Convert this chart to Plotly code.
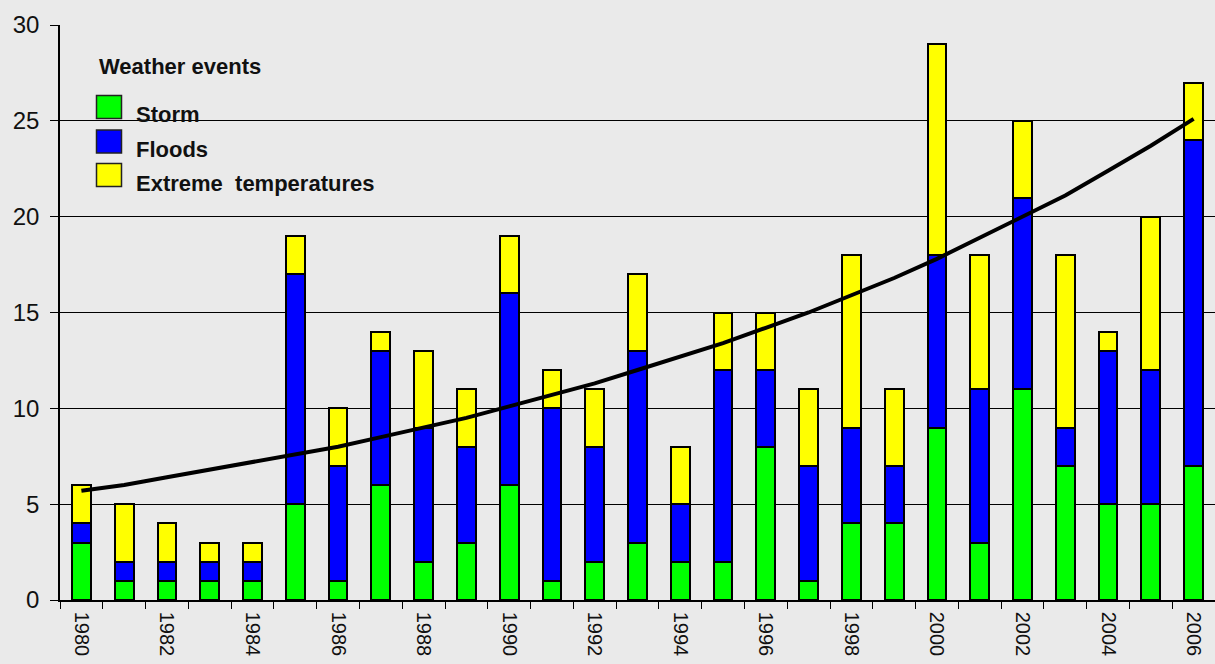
import plotly.graph_objects as go

# Annual counts of weather-related disaster events
years = list(range(1980, 2007))
storm = [3, 1, 1, 1, 1, 5, 1, 6, 2, 3, 6, 1, 2, 3, 2, 2, 8, 1, 4, 4, 9, 3, 11, 7, 5, 5, 7]
floods = [1, 1, 1, 1, 1, 12, 6, 7, 7, 5, 10, 9, 6, 10, 3, 10, 4, 6, 5, 3, 9, 8, 10, 2, 8, 7, 17]
extreme_temps = [2, 3, 2, 1, 1, 2, 3, 1, 4, 3, 3, 2, 3, 4, 3, 3, 3, 4, 9, 4, 11, 7, 4, 9, 1, 8, 3]

# Trend of total events per year
trend = [5.7, 6.0, 6.4, 6.8, 7.2, 7.6, 8.0, 8.5, 9.0, 9.5, 10.1, 10.7, 11.3, 12.0,
         12.7, 13.4, 14.2, 15.0, 15.9, 16.8, 17.8, 18.9, 20.0, 21.1, 22.4, 23.7, 25.1]

series_names = ["Storm", "Floods", "Extreme\u00a0 temperatures"]
series_colors = ["#00ff00", "#0000ff", "#ffff00"]
legend_title = "Weather events"

y_ticks = [0, 5, 10, 15, 20, 25, 30]
x_tick_years = years[::2]

FONT = "Arial, Liberation Sans, sans-serif"
BG = "#eaeaea"

W, H = 1215, 664
M_L, M_R, M_T, M_B = 60, 0, 25, 64

fig = go.Figure()
for name, vals, col in zip(series_names, [storm, floods, extreme_temps], series_colors):
    fig.add_trace(go.Bar(
        x=years, y=vals, name=name, width=0.44,
        marker=dict(color=col, line=dict(color="black", width=2)),
        showlegend=False,
    ))

fig.add_trace(go.Scatter(
    x=years, y=trend, mode="lines",
    line=dict(color="black", width=4),
    showlegend=False,
))

# Legend block drawn in pixel space, converted to paper coordinates
pw = W - M_L - M_R
ph = H - M_T - M_B


def px_x(px):
    return (px - M_L) / pw


def px_y(py):
    return (H - M_B - py) / ph


annotations = [dict(
    text="<b>" + legend_title + "</b>", x=px_x(97), y=px_y(67),
    xref="paper", yref="paper", xanchor="left", yanchor="middle",
    showarrow=False, font=dict(family=FONT, size=22, color="#111111"),
)]
shapes = []
row_centers = [107, 141.5, 175]
for name, col, cy in zip(series_names, series_colors, row_centers):
    shapes.append(dict(
        type="rect", xref="paper", yref="paper",
        x0=px_x(96.5), x1=px_x(121.5), y0=px_y(cy + 11.5), y1=px_y(cy - 11.5),
        fillcolor=col, line=dict(color="#222222", width=1.5), layer="above",
    ))
    annotations.append(dict(
        text="<b>" + name + "</b>", x=px_x(134), y=px_y(cy + 8),
        xref="paper", yref="paper", xanchor="left", yanchor="middle",
        showarrow=False, font=dict(family=FONT, size=22, color="#111111"),
    ))

fig.update_layout(
    width=W, height=H,
    margin=dict(l=M_L, r=M_R, t=M_T, b=M_B, pad=0, autoexpand=False),
    paper_bgcolor=BG, plot_bgcolor=BG,
    barmode="stack", bargap=0,
    font=dict(family=FONT, size=23, color="#111111"),
    shapes=shapes, annotations=annotations,
    xaxis=dict(
        range=[1979.5, 2006.5], automargin=False,
        tickmode="array", tickvals=x_tick_years, ticktext=[str(y) for y in x_tick_years],
        tickangle=90, ticks="", ticklabelstandoff=6,
        showline=True, linecolor="black", linewidth=1.5,
        showgrid=False, zeroline=False,
        minor=dict(tick0=1979.5, dtick=1, ticks="outside", ticklen=7,
                   tickcolor="black", tickwidth=1, showgrid=False),
        tickfont=dict(family=FONT, size=20, color="#111111"),
    ),
    yaxis=dict(
        range=[0, 30], tickmode="array", tickvals=y_ticks, automargin=False,
        ticks="outside", ticklen=8, tickcolor="black", tickwidth=1,
        showline=True, linecolor="black", linewidth=1.5,
        showgrid=True, gridcolor="black", gridwidth=1,
        zeroline=False, ticklabelstandoff=6,
        tickfont=dict(family=FONT, size=24, color="#111111"),
    ),
)

fig.write_html("out.html")
